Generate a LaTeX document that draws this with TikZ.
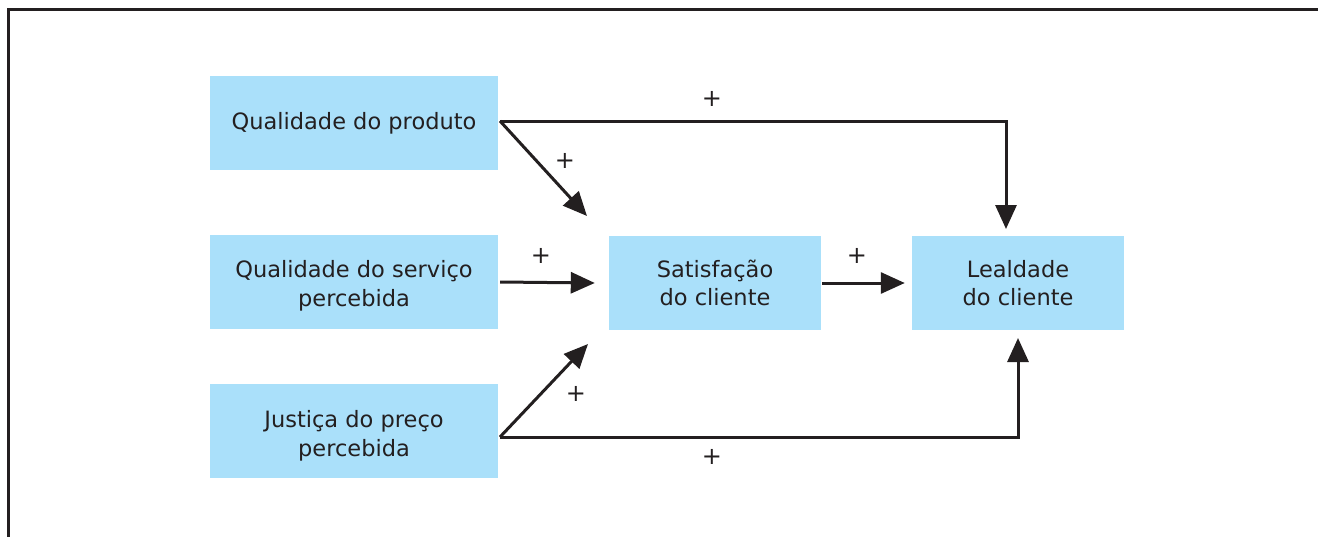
\documentclass[tikz,border=0pt]{standalone}
\usepackage{fontspec}
\setmainfont{DejaVu Sans}
\usetikzlibrary{arrows.meta}
\definecolor{boxblue}{RGB}{170,224,250}
\definecolor{ink}{RGB}{35,31,32}
\begin{document}
\begin{tikzpicture}[x=1pt,y=-1pt,
  box/.style={fill=boxblue,draw=none,inner sep=0pt,align=center,font=\fontsize{22.5}{28.5}\selectfont,text=ink},
  txt/.style={inner sep=0pt,align=center,font=\fontsize{22.5}{28.5}\selectfont,text=ink},
  conn/.style={draw=ink,line width=3pt,-{Triangle[length=24pt,width=21pt]}},
  sign/.style={font=\fontsize{24}{24}\selectfont,text=ink,inner sep=0pt}]
\useasboundingbox (0,0) rectangle (1318,536);
\draw[ink,line width=3pt] (8,537) -- (8,9.5) -- (1319,9.5);
\node[box,minimum width=288pt,minimum height=94pt] (qp) at (354,123) {Qualidade do produto};
\node[box,minimum width=288pt,minimum height=94pt] (qs) at (354,282) {};
\node[txt] (qst) at (354,286) {Qualidade do serviço\\percebida};
\node[box,minimum width=288pt,minimum height=94pt] (jp) at (354,431) {};
\node[txt] (jpt) at (354,436) {Justiça do preço\\percebida};
\node[box,minimum width=212pt,minimum height=94pt] (sc) at (715,283) {Satisfação\\do cliente};
\node[box,minimum width=212pt,minimum height=94pt] (lc) at (1018,283) {Lealdade\\do cliente};
\coordinate (qpo) at (500,121);
\coordinate (jpo) at (500,437);
\coordinate (t1) at (587,216);
\coordinate (t2) at (588,344);
\coordinate (lt) at (1006,229);
\coordinate (lb) at (1018,338);
\draw[conn] (qpo) -| (lt);
\draw[conn] (qpo) -- (t1);
\draw[conn] (qs.east) ++(2,0) -- ([xshift=-14pt]sc.west);
\draw[conn] (sc.east) ++(1,0) -- ([xshift=-7pt]lc.west);
\draw[conn] (jpo) -- (t2);
\draw[conn] (jpo) -| (lb);
\node[sign] (s1) at (712,99) {+};
\node[sign] (s2) at (565,161) {+};
\node[sign] (s3) at (541,256) {+};
\node[sign] (s4) at (857,256) {+};
\node[sign] (s5) at (576,394) {+};
\node[sign] (s6) at (712,457) {+};
\end{tikzpicture}
\end{document}
